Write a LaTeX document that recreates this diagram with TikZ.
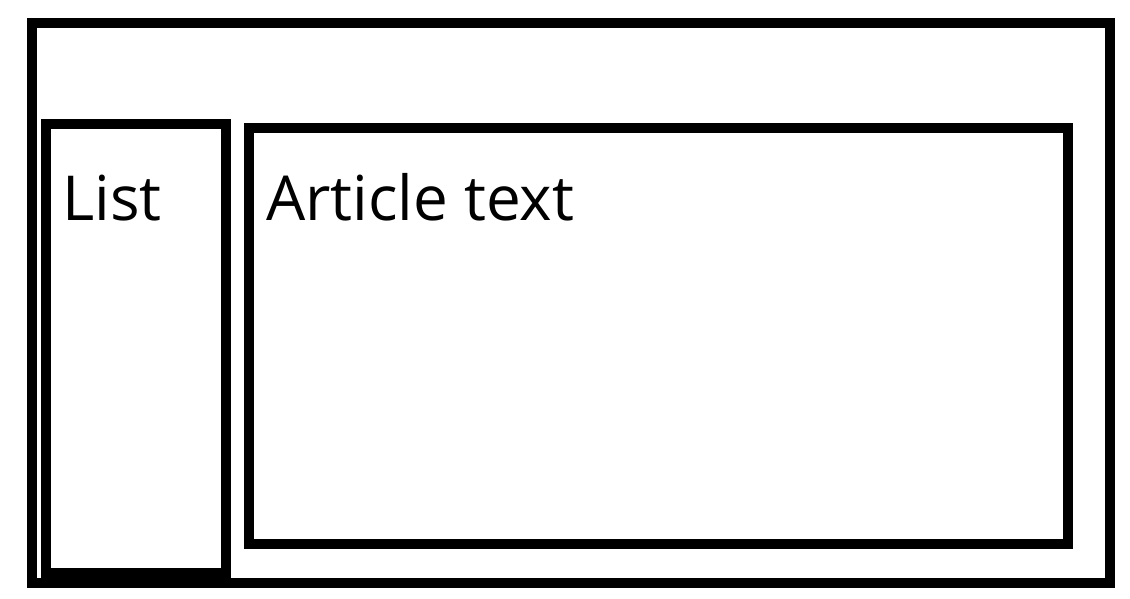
\documentclass[tikz,border=0pt]{standalone}
\usepackage{fontspec}
\setmainfont{Open Sans}
\begin{document}
\begin{tikzpicture}[x=1pt,y=-1pt,
  frame/.style={draw=black,line width=10pt,inner sep=0pt,outer sep=0pt,fill=none},
  caption/.style={anchor=base west,inner sep=0pt,font=\fontsize{62}{68}\selectfont}]
  \useasboundingbox (0,0) rectangle (1130,598);
  % page frame
  \node[frame,minimum width=1078pt,minimum height=560pt] (outer) at (571,303) {};
  % side list panel
  \node[frame,minimum width=180pt,minimum height=449pt] (list) at (136,348.5) {};
  % main article panel
  \node[frame,minimum width=819pt,minimum height=416pt] (article) at (658.5,336) {};
  \node[caption] (listtext) at (62,220) {List};
  \node[caption] (articletext) at (266,220) {Article text};
\end{tikzpicture}
\end{document}
